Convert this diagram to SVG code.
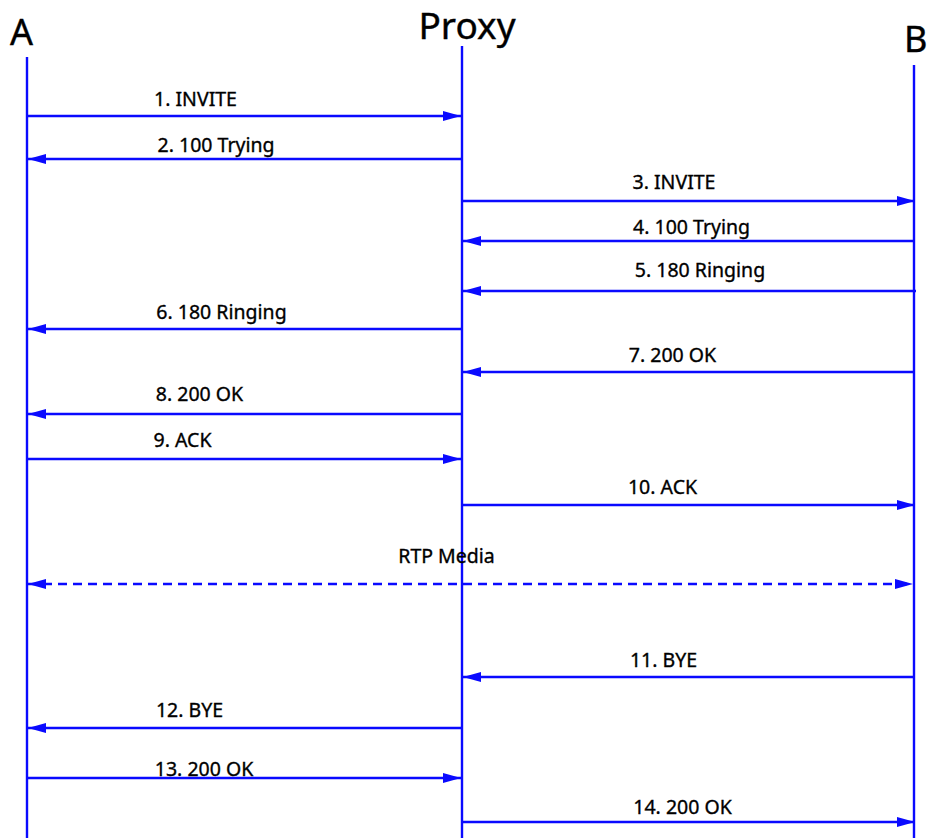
<svg xmlns="http://www.w3.org/2000/svg" width="928" height="838" viewBox="0 0 928 838">
<style>
.life{stroke:#0a0aff;stroke-width:2.4;fill:none}
.msg{stroke:#0a0aff;stroke-width:2.3;fill:none}
.dash{stroke:#0a0aff;stroke-width:2.6;fill:none;stroke-dasharray:9 6}
.lbl{font-family:"Noto Sans","DejaVu Sans",sans-serif;font-size:19.5px;fill:#000;stroke:#000;stroke-width:0.35;text-anchor:middle}
.head{font-family:"Noto Sans","DejaVu Sans",sans-serif;fill:#000;stroke:#000;stroke-width:0.4}
</style>
<defs>
<marker id="ah" markerUnits="userSpaceOnUse" markerWidth="20" markerHeight="12" refX="18" refY="5" orient="auto-start-reverse">
<path d="M0,0 L18,5 L0,10 z" fill="#0a0aff"/>
</marker>
</defs>
<rect width="928" height="838" fill="#fff"/>
<g id="A">
<text class="head" x="10" y="45" font-size="36">A</text>
<line class="life" x1="27" y1="57" x2="27" y2="838"/>
</g>
<g id="Proxy">
<text class="head" x="467" y="39" font-size="37" text-anchor="middle">Proxy</text>
<line class="life" x1="462" y1="46" x2="462" y2="838"/>
</g>
<g id="B">
<text class="head" x="904" y="52" font-size="36">B</text>
<line class="life" x1="914" y1="65" x2="914" y2="838"/>
</g>
<g id="connectors">
<line class="msg" x1="27" y1="116" x2="461" y2="116" marker-end="url(#ah)"/>
<line class="msg" x1="462" y1="159" x2="28" y2="159" marker-end="url(#ah)"/>
<line class="msg" x1="462" y1="201" x2="915" y2="201" marker-end="url(#ah)"/>
<line class="msg" x1="914" y1="241" x2="463" y2="241" marker-end="url(#ah)"/>
<line class="msg" x1="916" y1="291" x2="463" y2="291" marker-end="url(#ah)"/>
<line class="msg" x1="462" y1="329" x2="28" y2="329" marker-end="url(#ah)"/>
<line class="msg" x1="914" y1="372" x2="463" y2="372" marker-end="url(#ah)"/>
<line class="msg" x1="462" y1="414" x2="28" y2="414" marker-end="url(#ah)"/>
<line class="msg" x1="27" y1="459" x2="461" y2="459" marker-end="url(#ah)"/>
<line class="msg" x1="462" y1="505" x2="915" y2="505" marker-end="url(#ah)"/>
<line class="dash" x1="28" y1="584" x2="913" y2="584" marker-start="url(#ah)" marker-end="url(#ah)"/>
<line class="msg" x1="914" y1="677" x2="463" y2="677" marker-end="url(#ah)"/>
<line class="msg" x1="462" y1="728" x2="28" y2="728" marker-end="url(#ah)"/>
<line class="msg" x1="27" y1="778" x2="461" y2="778" marker-end="url(#ah)"/>
<line class="msg" x1="462" y1="822" x2="915" y2="822" marker-end="url(#ah)"/>
</g>
<g id="labels">
<text class="lbl" x="195.5" y="106">1. INVITE</text>
<text class="lbl" x="216" y="152">2. 100 Trying</text>
<text class="lbl" x="674" y="189">3. INVITE</text>
<text class="lbl" x="691.5" y="234">4. 100 Trying</text>
<text class="lbl" x="700" y="277">5. 180 Ringing</text>
<text class="lbl" x="221.5" y="319">6. 180 Ringing</text>
<text class="lbl" x="672.5" y="362">7. 200 OK</text>
<text class="lbl" x="199.5" y="401">8. 200 OK</text>
<text class="lbl" x="182.5" y="447">9. ACK</text>
<text class="lbl" x="662.5" y="494">10. ACK</text>
<text class="lbl" x="446.5" y="563">RTP Media</text>
<text class="lbl" x="663.5" y="667">11. BYE</text>
<text class="lbl" x="189.5" y="717">12. BYE</text>
<text class="lbl" x="204" y="776">13. 200 OK</text>
<text class="lbl" x="682.5" y="814">14. 200 OK</text>
</g>
</svg>
